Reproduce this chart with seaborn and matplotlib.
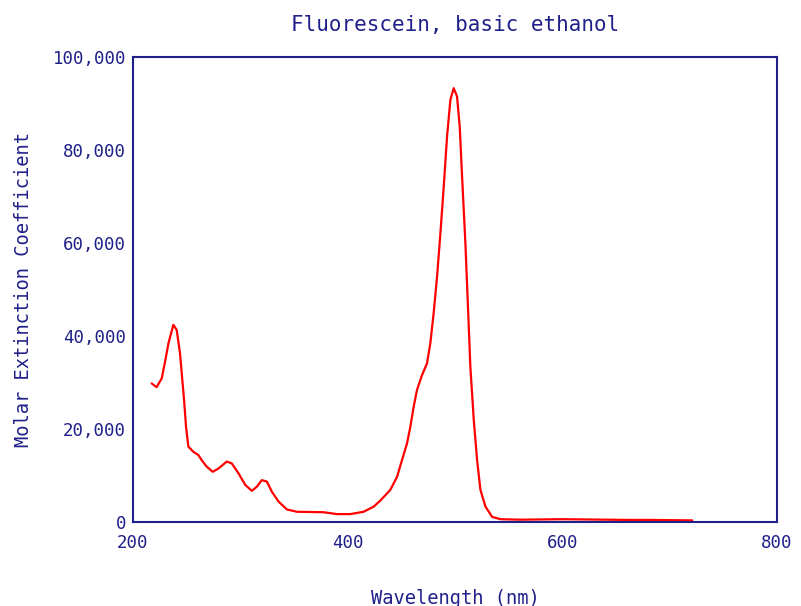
import matplotlib
matplotlib.use("Agg")
import matplotlib.pyplot as plt
import seaborn as sns
import pandas as pd
from matplotlib.ticker import FuncFormatter

wavelength = [217.4, 222.0, 226.8, 229.9, 233.0, 237.6, 240.7, 243.8, 245.4, 247.6,
              249.4, 251.6, 256.2, 260.9, 264.0, 268.7, 274.3, 279.6, 287.4, 292.0,
              298.2, 304.5, 310.7, 315.4, 320.0, 324.7, 329.4, 335.6, 343.4, 352.7,
              377.5, 390.0, 402.4, 414.8, 424.2, 430.4, 439.7, 446.0, 450.6, 455.3,
              458.4, 461.5, 464.6, 469.3, 473.9, 477.0, 480.1, 483.3, 486.4, 489.5,
              492.6, 495.7, 498.8, 501.9, 504.4, 506.6, 509.7, 512.2, 514.3, 517.5,
              520.6, 523.7, 528.4, 534.6, 542.4, 560.0, 580.0, 600.0, 620.0, 640.0,
              660.0, 680.0, 700.0, 721.0]
extinction = [29800, 29000, 30900, 34500, 38400, 42400, 41300, 36300, 32000, 26200,
              20500, 16200, 15100, 14400, 13300, 11900, 10800, 11500, 13000, 12600,
              10500, 8000, 6700, 7600, 9000, 8700, 6500, 4400, 2700, 2200,
              2100, 1700, 1700, 2200, 3300, 4600, 6900, 9700, 13300, 16900,
              20500, 24800, 28400, 31600, 34100, 38400, 44900, 52800, 62100, 72100,
              82900, 90800, 93300, 91500, 85000, 74300, 59900, 45600, 33400, 21900,
              13300, 6900, 3300, 1100, 600, 500, 550, 600, 550, 500,
              450, 450, 400, 350]

title_text = "Fluorescein, basic ethanol"
x_label = "Wavelength (nm)"
y_label = "Molar Extinction Coefficient"
x_ticks = [200, 400, 600, 800]
y_ticks = [0, 20000, 40000, 60000, 80000, 100000]

df = pd.DataFrame({"wavelength": wavelength, "extinction": extinction})

sns.set_style("white")
plt.rcParams["font.family"] = ["DejaVu Sans Mono", "DejaVu Sans"]
navy = "#20208a"

fig = plt.figure(figsize=(8.01, 6.06), dpi=100)
ax = fig.add_axes([133 / 801, 1 - 522 / 606, (777 - 133) / 801, (522 - 57) / 606])

sns.lineplot(data=df, x="wavelength", y="extinction", ax=ax, color="#ff0000",
             linewidth=1.6, sort=False)

ax.set_xlim(200, 800)
ax.set_ylim(0, 100000)
ax.set_xticks(x_ticks)
ax.set_yticks(y_ticks)
ax.yaxis.set_major_formatter(FuncFormatter(lambda v, p: f"{int(v):,}"))
ax.tick_params(direction="in", length=4, width=1.2, colors=navy, labelsize=12.5,
               labelcolor=navy)
ax.tick_params(axis="x", pad=9)
ax.tick_params(axis="y", pad=5)
for s in ax.spines.values():
    s.set_color(navy)
    s.set_linewidth(1.5)

ax.set_xlabel(x_label, color=navy, fontsize=13.5, labelpad=26)
ax.set_ylabel(y_label, color=navy, fontsize=13.5, labelpad=14)
ax.set_title(title_text, color=navy, fontsize=15, pad=19)

fig.savefig("out.png", dpi=100)
